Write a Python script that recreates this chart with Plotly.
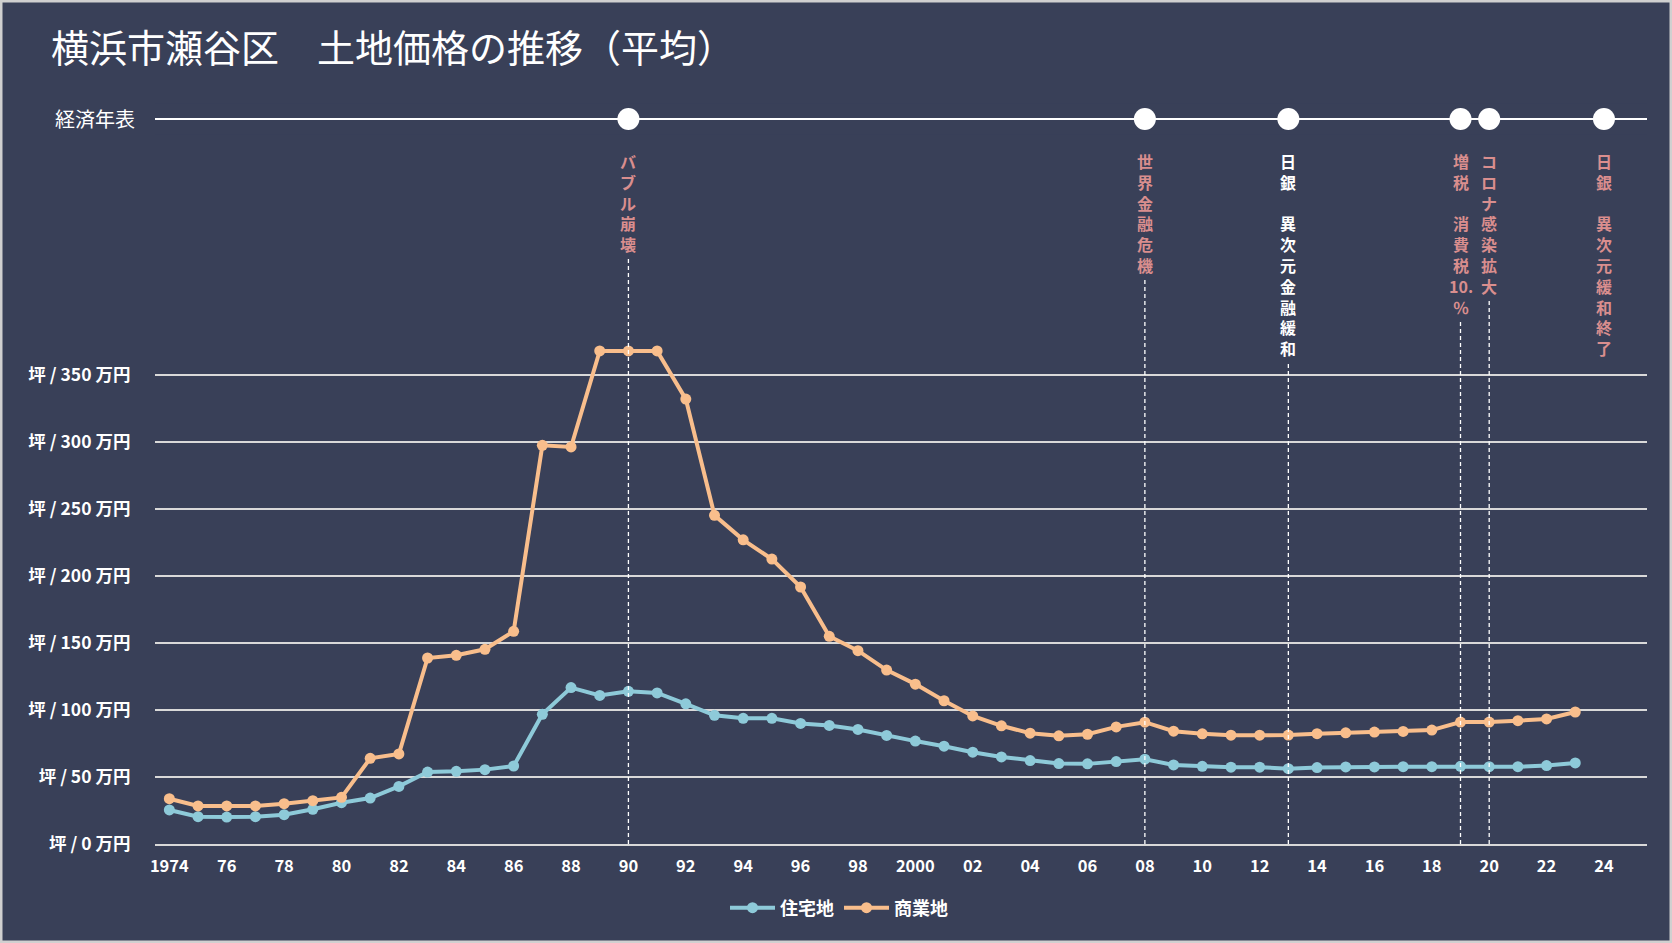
import plotly.graph_objects as go

# data
years = list(range(1974, 2024))
residential = [25.4, 20.4, 20.1, 20.4, 21.9, 25.9, 30.8, 34.3, 43.0, 53.7,
               54.2, 55.5, 58.2, 96.8, 116.7, 110.9, 113.9, 112.7, 104.6, 96.0,
               93.8, 93.8, 90.0, 88.5, 85.5, 81.0, 76.8, 73.0, 68.5, 65.0,
               62.3, 60.0, 59.8, 61.5, 63.3, 59.0, 58.0, 57.3, 57.3, 56.2,
               57.0, 57.5, 57.5, 57.7, 57.7, 58.0, 57.7, 57.7, 58.5, 60.5]
commercial = [33.8, 28.4, 28.4, 28.4, 30.1, 32.3, 34.8, 63.9, 67.2, 138.8,
              140.8, 145.3, 158.7, 297.5, 296.3, 368.0, 368.0, 368.0, 332.0, 245.3,
              227.0, 212.6, 191.8, 155.0, 144.3, 129.8, 119.3, 106.9, 95.6, 88.2,
              82.7, 80.7, 81.9, 87.4, 90.9, 84.2, 82.2, 81.2, 81.2, 81.3,
              82.3, 83.0, 83.5, 84.0, 85.0, 91.0, 91.0, 92.0, 93.3, 98.5]

event_years = [1990, 2008, 2013, 2019, 2020, 2024]
event_labels = [
    ["バ", "ブ", "ル", "崩", "壊"],
    ["世", "界", "金", "融", "危", "機"],
    ["日", "銀", "　", "異", "次", "元", "金", "融", "緩", "和"],
    ["増", "税", "　", "消", "費", "税", "10.", "％"],
    ["コ", "ロ", "ナ", "感", "染", "拡", "大"],
    ["日", "銀", "　", "異", "次", "元", "緩", "和", "終", "了"],
]
event_colors = ["#D98E8E", "#D98E8E", "#FFFFFF", "#D98E8E", "#D98E8E", "#D98E8E"]
event_dashed = [True, True, True, True, True, False]

ytick_vals = [0, 50, 100, 150, 200, 250, 300, 350]
ytick_text = ["坪 / %d 万円" % v for v in ytick_vals]
xtick_vals = list(range(1974, 2025, 2))
xtick_text = [str(y) if y in (1974, 2000) else "%02d" % (y % 100) for y in xtick_vals]

# layout constants (pixels)
W, H = 1672, 943
ML, MR, MT, MB = 155, 25, 60, 99
PW, PH = W - ML - MR, H - MT - MB
PX_PER_UNIT = 1.34
TIMELINE_Y = 119
TEXT_TOP = 150
CHAR_STEP = 20.8   # plotly line spacing = 1.3 * font size
EVENT_FONT = 16

BG = "#394058"
GRID = "#D9D9D9"
BLUE = "#8ECAD9"
ORANGE = "#F9BE8C"
FONT = "Noto Sans CJK JP"

fig = go.Figure()

fig.add_trace(go.Scatter(
    x=years, y=residential, name="住宅地", mode="lines+markers",
    line=dict(color=BLUE, width=4), marker=dict(size=11, color=BLUE),
))
fig.add_trace(go.Scatter(
    x=years, y=commercial, name="商業地", mode="lines+markers",
    line=dict(color=ORANGE, width=4), marker=dict(size=11, color=ORANGE),
))

# timeline markers
fig.add_trace(go.Scatter(
    x=event_years, y=[0] * len(event_years), yaxis="y2", mode="markers",
    marker=dict(size=22, color="white"), showlegend=False, hoverinfo="skip",
))

tl_frac = (PH - (TIMELINE_Y - MT)) / PH
shapes = [
    dict(type="line", xref="paper", yref="y2", x0=0, x1=1, y0=0, y1=0,
         line=dict(color="white", width=2)),
    # outer border
    dict(type="rect", xref="paper", yref="paper",
         x0=-ML / PW, x1=1 + MR / PW, y0=-MB / PH, y1=1 + MT / PH,
         line=dict(color="#D0D0D0", width=5)),
]

annotations = [
    dict(text="経済年表", xref="paper", yref="y2", x=0, y=0, xanchor="right",
         xshift=-18, showarrow=False, font=dict(family=FONT, size=20, color="white")),
]

for yr, chars, col, dashed in zip(event_years, event_labels, event_colors, event_dashed):
    annotations.append(dict(
        text="<b>" + "<br>".join(chars) + "</b>", xref="x", yref="y2", x=yr, y=0,
        xanchor="center", yanchor="top", align="center",
        yshift=-(TEXT_TOP - TIMELINE_Y) + 3,
        showarrow=False, font=dict(family=FONT, size=EVENT_FONT, color=col),
    ))
    if dashed:
        top_px = TEXT_TOP + len(chars) * CHAR_STEP + 4
        shapes.append(dict(
            type="line", xref="x", yref="paper", x0=yr, x1=yr,
            y0=0, y1=(MT + PH - top_px) / PH,
            line=dict(color="white", width=1.3, dash="4px,3px"),
        ))

fig.update_layout(
    width=W, height=H,
    margin=dict(l=ML, r=MR, t=MT, b=MB),
    paper_bgcolor=BG, plot_bgcolor=BG,
    font=dict(family=FONT, color="white"),
    title=dict(text="横浜市瀬谷区　土地価格の推移（平均）", x=51 / W, xanchor="left",
               y=1 - 49 / H, yanchor="middle",
               font=dict(family=FONT, size=38, color="white")),
    xaxis=dict(range=[1973.5, 2025.5], tickvals=xtick_vals, ticktext=xtick_text,
               showgrid=False, zeroline=False, showline=True, linecolor=GRID,
               linewidth=2, ticks="outside", ticklen=6, tickcolor=BG,
               tickfont=dict(family=FONT, size=16.5, color="white", weight="bold")),
    yaxis=dict(range=[0, PH / PX_PER_UNIT], tickvals=ytick_vals, ticktext=ytick_text,
               showgrid=True, gridcolor=GRID, gridwidth=2, zeroline=False,
               ticks="outside", ticklen=20, tickcolor=BG,
               tickfont=dict(family=FONT, size=17.5, color="white", weight="bold")),
    yaxis2=dict(domain=[tl_frac - 0.02, tl_frac + 0.02], range=[-1, 1],
                anchor="x", visible=False),
    legend=dict(orientation="h", x=(839 - ML) / PW, xanchor="center",
                y=-(908 - MT - PH) / PH, yanchor="middle",
                font=dict(family=FONT, size=18, color="white", weight="bold"),
                bgcolor="rgba(0,0,0,0)", itemwidth=45),
    shapes=shapes,
    annotations=annotations,
    showlegend=True,
)

fig.write_html("out.html", config={"displayModeBar": False},
               post_script="document.body.style.margin='0';")
